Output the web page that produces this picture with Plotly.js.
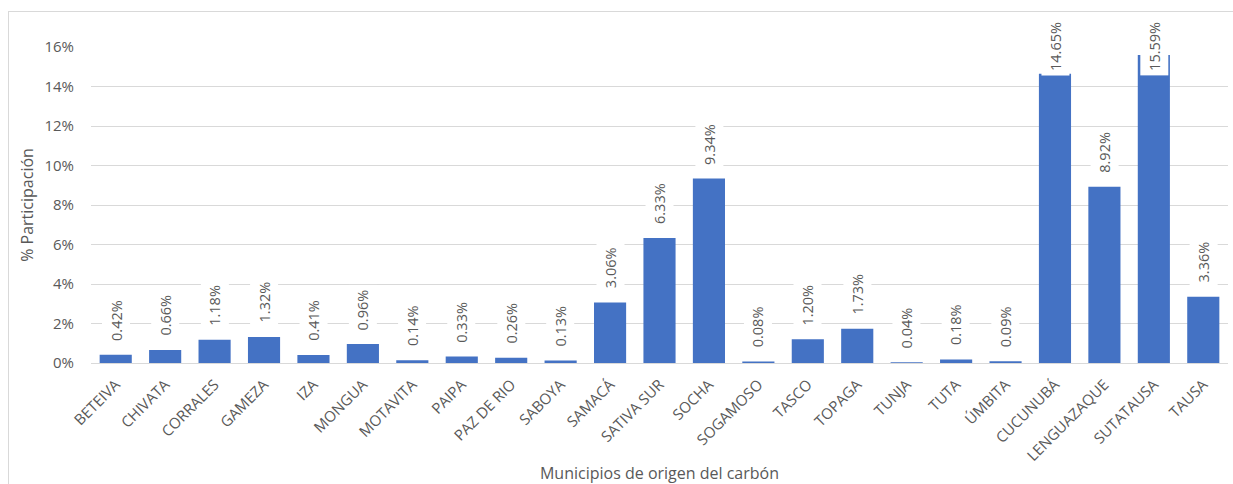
<!DOCTYPE html>
<html><head><meta charset="utf-8">
<script src="https://cdn.plot.ly/plotly-3.0.1.min.js"></script>
<style>
html,body{margin:0;padding:0;background:#fff;overflow:hidden;}
#wrap{position:relative;width:1233px;height:484px;}
#frame{position:absolute;left:8px;top:11px;width:1240px;height:490px;border:1px solid #d9d9d9;box-sizing:border-box;pointer-events:none;}
#chart{position:absolute;left:0;top:0;width:1233px;height:484px;}
</style></head>
<body><div id="wrap"><div id="chart"></div><div id="frame"></div></div>
<script>
const municipios = ["BETEIVA","CHIVATA","CORRALES","GAMEZA","IZA","MONGUA","MOTAVITA","PAIPA","PAZ DE RIO","SABOYA","SAMACÁ","SATIVA SUR","SOCHA","SOGAMOSO","TASCO","TOPAGA","TUNJA","TUTA","ÚMBITA","CUCUNUBÁ","LENGUAZAQUE","SUTATAUSA","TAUSA"];
const participacion = [0.42,0.66,1.18,1.32,0.41,0.96,0.14,0.33,0.26,0.13,3.06,6.33,9.34,0.08,1.20,1.73,0.04,0.18,0.09,14.65,8.92,15.59,3.36];
const yTicks = [0,2,4,6,8,10,12,14,16];

const font = "'Open Sans', 'Liberation Sans', sans-serif";
const grey = "#595959";

const annotations = municipios.map((m,i)=>({
  x: m, y: Math.min(participacion[i], 14.1), xref:'x', yref:'y',
  text: participacion[i].toFixed(2) + '%',
  showarrow:false, textangle:-90, yanchor:'bottom', xanchor:'center',
  yshift: 9, bgcolor:'#ffffff', borderpad:4,
  font:{family:font, size:14.5, color:grey}
}));

const trace = {
  type:'bar', x:municipios, y:participacion,
  marker:{color:'#4472c4'}, hoverinfo:'x+y'
};

const layout = {
  width:1233, height:484,
  margin:{l:91, r:5, t:47, b:121},
  paper_bgcolor:'rgba(0,0,0,0)', plot_bgcolor:'#ffffff',
  bargap:0.35, showlegend:false,
  font:{family:font, color:grey, size:14},
  xaxis:{
    type:'category', tickangle:-45, tickfont:{size:15, color:grey},
    showgrid:false, showline:false, ticks:'', automargin:false,
    ticklabelstandoff:9,
    title:{text:'Municipios de origen del carbón', font:{size:16, color:grey}, standoff:7}
  },
  yaxis:{
    range:[0,16], tickvals:yTicks, ticktext:yTicks.map(v=>v+'%'),
    tickfont:{size:15, color:grey}, gridcolor:'#d9d9d9', gridwidth:1,
    zeroline:true, zerolinecolor:'#d9d9d9', zerolinewidth:1,
    showline:false, ticks:'', ticklabelstandoff:16, automargin:false,
    title:{text:'% Participación', font:{size:16, color:grey}, standoff:6}
  },
  annotations: annotations
};

Plotly.newPlot('chart',[trace],layout,{displayModeBar:false,staticPlot:true});
</script></body></html>
